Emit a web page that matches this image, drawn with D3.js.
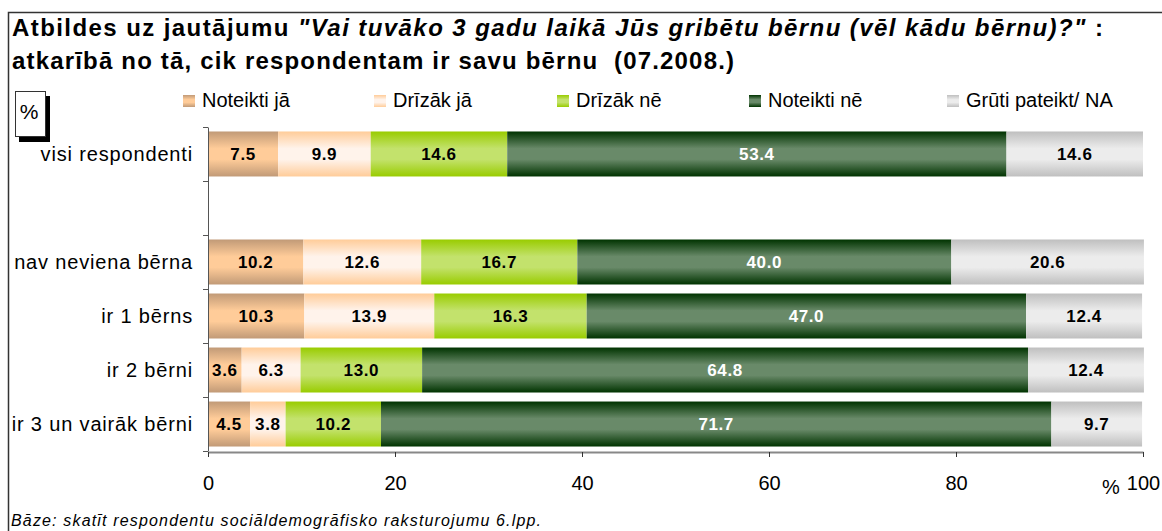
<!DOCTYPE html>
<html>
<head>
<meta charset="utf-8">
<script src="https://cdn.jsdelivr.net/npm/d3@7"></script>
<style>
  body { margin: 0; background: #fff; }
  text { font-family: Arial, "Liberation Sans", sans-serif; }
</style>
</head>
<body>
<div id="chart"></div>
<script>
// rows of the chart (one empty slot sits after "visi respondenti")
var categories = ["visi respondenti", "nav neviena bērna", "ir 1 bērns", "ir 2 bērni", "ir 3 un vairāk bērni"];
var slots = ["visi respondenti", "_gap", "nav neviena bērna", "ir 1 bērns", "ir 2 bērni", "ir 3 un vairāk bērni"];

var seriesNames = ["Noteikti jā", "Drīzāk jā", "Drīzāk nē", "Noteikti nē", "Grūti pateikt/ NA"];
var noteiktiJa = [7.5, 10.2, 10.3, 3.6, 4.5];
var drizakJa = [9.9, 12.6, 13.9, 6.3, 3.8];
var drizakNe = [14.6, 16.7, 16.3, 13.0, 10.2];
var noteiktiNe = [53.4, 40.0, 47.0, 64.8, 71.7];
var grutiPateikt = [14.6, 20.6, 12.4, 12.4, 9.7];

var xTicks = [0, 20, 40, 60, 80, 100];

var width = 1162,
  height = 531;

var plotLeft = 208,
  plotRight = 1143,
  plotTop = 127,
  plotBottom = 451;

// colours: [edge, middle] of the vertical gradient
var colors = [
  ["#c19a77", "#ffcc99"],
  ["#ffcc99", "#fff3eb"],
  ["#99cc00", "#c3e26c"],
  ["#003300", "#698a69"],
  ["#bfbfbf", "#ececec"]
];

var seriesValues = [noteiktiJa, drizakJa, drizakNe, noteiktiNe, grutiPateikt];
var rows = categories.map(function (c, i) {
  var r = { cat: c };
  seriesNames.forEach(function (s, j) {
    r[s] = seriesValues[j][i];
  });
  return r;
});

// spread a text out so it covers about the same width as in the picture
function fitText(sel, target) {
  var node = sel.node();
  var n = node.getNumberOfChars();
  var len = node.getComputedTextLength();
  if (n > 1) sel.style("letter-spacing", ((target - len) / (n - 1)) + "px");
}

var svg = d3
  .select("#chart")
  .append("svg")
  .attr("width", width)
  .attr("height", height);

var defs = svg.append("defs");
colors.forEach(function (c, i) {
  var g = defs
    .append("linearGradient")
    .attr("id", "grad" + i)
    .attr("x1", 0).attr("y1", 0)
    .attr("x2", 0).attr("y2", 1);
  g.append("stop").attr("offset", "0%").attr("stop-color", c[0]);
  g.append("stop").attr("offset", "38%").attr("stop-color", c[1]);
  g.append("stop").attr("offset", "62%").attr("stop-color", c[1]);
  g.append("stop").attr("offset", "100%").attr("stop-color", c[0]);
});

svg.append("rect").attr("width", width).attr("height", height).attr("fill", "#fff");

// outer frame
svg
  .append("rect")
  .attr("x", 8.5)
  .attr("y", 12.5)
  .attr("width", 1200)
  .attr("height", 600)
  .attr("fill", "none")
  .attr("stroke", "#333")
  .attr("stroke-width", 1.5);

// title
var t1 = svg
  .append("text")
  .attr("x", 12)
  .attr("y", 36)
  .style("font-size", "24px")
  .style("font-weight", "bold");
t1.append("tspan").text("Atbildes uz jautājumu ");
t1.append("tspan").style("font-style", "italic").text('"Vai tuvāko 3 gadu laikā Jūs gribētu bērnu (vēl kādu bērnu)?"');
t1.append("tspan").text(" :");
fitText(t1, 1091);

var t2 = svg
  .append("text")
  .attr("x", 12)
  .attr("y", 69)
  .style("font-size", "24px")
  .style("font-weight", "bold")
  .attr("xml:space", "preserve")
  .text("atkarībā no tā, cik respondentam ir savu bērnu  (07.2008.)");
fitText(t2, 722);

// % box
svg.append("rect").attr("x", 19).attr("y", 96).attr("width", 31).attr("height", 46).attr("fill", "#000");
svg
  .append("rect")
  .attr("x", 15.5)
  .attr("y", 91.5)
  .attr("width", 30)
  .attr("height", 45)
  .attr("fill", "#fff")
  .attr("stroke", "#333");
svg
  .append("text")
  .attr("x", 29)
  .attr("y", 119)
  .attr("text-anchor", "middle")
  .style("font-size", "21px")
  .text("%");

// legend
var legendX = [183, 374, 557, 749, 947];
var legend = svg
  .selectAll(".legend")
  .data(seriesNames)
  .enter()
  .append("g")
  .attr("class", "legend")
  .attr("transform", function (d, i) {
    return "translate(" + legendX[i] + ",95)";
  });
legend
  .append("rect")
  .attr("width", 12)
  .attr("height", 12)
  .attr("fill", function (d, i) {
    return "url(#grad" + i + ")";
  });
legend
  .append("text")
  .attr("x", 19)
  .attr("y", 12)
  .style("font-size", "20px")
  .text(function (d) {
    return d;
  });

// scales
var x = d3.scaleLinear().domain([0, 100]).range([plotLeft, plotRight]);
var y = d3
  .scaleBand()
  .domain(slots)
  .range([plotTop, plotBottom])
  .paddingInner(0.167)
  .paddingOuter(0.083);

var stacked = d3.stack().keys(seriesNames)(rows);

var groups = svg
  .selectAll(".series")
  .data(stacked)
  .enter()
  .append("g")
  .attr("class", "series")
  .attr("fill", function (d, i) {
    return "url(#grad" + i + ")";
  });

groups
  .selectAll("rect")
  .data(function (d) {
    return d;
  })
  .enter()
  .append("rect")
  .attr("x", function (d) {
    return x(d[0]);
  })
  .attr("y", function (d) {
    return y(d.data.cat);
  })
  .attr("width", function (d) {
    return x(d[1]) - x(d[0]);
  })
  .attr("height", y.bandwidth());

// value labels
stacked.forEach(function (s, i) {
  svg
    .append("g")
    .selectAll("text")
    .data(s)
    .enter()
    .append("text")
    .attr("x", function (d) {
      return (x(d[0]) + x(d[1])) / 2;
    })
    .attr("y", function (d) {
      return y(d.data.cat) + y.bandwidth() / 2 + 6;
    })
    .attr("text-anchor", "middle")
    .style("font-size", "17px")
    .style("font-weight", "bold")
    .style("letter-spacing", "0.6px")
    .attr("fill", i == 3 ? "#fff" : "#000")
    .text(function (d) {
      return (d[1] - d[0]).toFixed(1);
    });
});

// y axis: ticks on band boundaries
var yEdges = d3.scaleLinear().domain([0, slots.length]).range([plotTop, plotBottom]);
var yAxis = svg
  .append("g")
  .attr("transform", "translate(" + plotLeft + ",0)")
  .call(
    d3.axisLeft(yEdges)
      .tickValues(d3.range(0, slots.length + 1))
      .tickSize(5)
      .tickSizeOuter(0)
      .tickFormat("")
  );
yAxis.selectAll("path, line").attr("stroke", "#555");

var catLabels = svg
  .append("g")
  .selectAll("text")
  .data(categories)
  .enter()
  .append("text")
  .attr("x", 193)
  .attr("y", function (d) {
    return y(d) + y.bandwidth() / 2 + 7;
  })
  .attr("text-anchor", "end")
  .style("font-size", "20px")
  .text(function (d) {
    return d;
  });
// same spacing for all rows, taken from the widest one
var widest = catLabels.filter(function (d) { return d == "nav neviena bērna"; });
fitText(widest, 178);
catLabels.style("letter-spacing", widest.style("letter-spacing"));

// x axis
var xAxis = svg
  .append("g")
  .attr("transform", "translate(0," + (plotBottom + 1) + ")")
  .call(d3.axisBottom(x).tickValues(xTicks).tickSize(5).tickSizeOuter(0).tickPadding(19));
xAxis.select(".domain").attr("stroke", "#888").attr("stroke-width", 2);
xAxis.selectAll(".tick line").attr("stroke", "#333");
xAxis
  .selectAll(".tick text")
  .style("font-size", "20px")
  .style("font-family", 'Arial, "Liberation Sans", sans-serif')
  .attr("fill", "#000");

svg
  .append("text")
  .attr("x", 1111)
  .attr("y", 494)
  .attr("text-anchor", "middle")
  .style("font-size", "20px")
  .text("%");

// footer
var foot = svg
  .append("text")
  .attr("x", 11)
  .attr("y", 526)
  .style("font-size", "16px")
  .style("font-style", "italic")
  .text("Bāze: skatīt respondentu sociāldemogrāfisko raksturojumu 6.lpp.");
fitText(foot, 530);
</script>
</body>
</html>
